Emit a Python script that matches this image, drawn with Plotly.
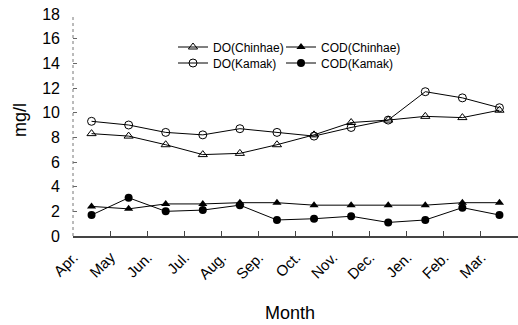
import plotly.graph_objects as go

months = ["Apr.", "May", "Jun.", "Jul.", "Aug.", "Sep.", "Oct.", "Nov.", "Dec.", "Jen.", "Feb.", "Mar."]
do_chinhae = [8.3, 8.1, 7.4, 6.6, 6.7, 7.4, 8.2, 9.2, 9.4, 9.7, 9.6, 10.2]
do_kamak = [9.3, 9.0, 8.4, 8.2, 8.7, 8.4, 8.1, 8.8, 9.4, 11.7, 11.2, 10.4]
cod_chinhae = [2.4, 2.2, 2.6, 2.6, 2.7, 2.7, 2.5, 2.5, 2.5, 2.5, 2.7, 2.7]
cod_kamak = [1.7, 3.1, 2.0, 2.1, 2.5, 1.3, 1.4, 1.6, 1.1, 1.3, 2.3, 1.7]
y_ticks = [0, 2, 4, 6, 8, 10, 12, 14, 16, 18]

FONT = "Liberation Sans, Arial, sans-serif"
line = dict(color="black", width=1)
L, T, PW, PH = 73, 14, 445, 222

def px_x(x):
    return (x - L) / PW

def px_y(y):
    return (T + PH - y) / PH

fig = go.Figure()
fig.add_trace(go.Scatter(x=months, y=do_chinhae, mode="lines+markers", name="DO(Chinhae)",
                         line=line, marker=dict(symbol="triangle-up-open", size=8, color="black",
                                                line=dict(width=1, color="black")), legend="legend"))
fig.add_trace(go.Scatter(x=months, y=do_kamak, mode="lines+markers", name="DO(Kamak)",
                         line=line, marker=dict(symbol="circle-open", size=8, color="black",
                                                line=dict(width=1, color="black")), legend="legend2"))
fig.add_trace(go.Scatter(x=months, y=cod_chinhae, mode="lines+markers", name="COD(Chinhae)",
                         line=line, marker=dict(symbol="triangle-up", size=8, color="black"), legend="legend3"))
fig.add_trace(go.Scatter(x=months, y=cod_kamak, mode="lines+markers", name="COD(Kamak)",
                         line=line, marker=dict(symbol="circle", size=8, color="black"), legend="legend4"))

def leg(xpx, ypx):
    return dict(x=px_x(xpx), y=px_y(ypx), xanchor="left", yanchor="middle",
                bgcolor="rgba(0,0,0,0)", font=dict(size=12, family=FONT), itemwidth=30)

fig.update_layout(
    width=518, height=325,
    margin=dict(l=L, r=518 - L - PW, t=T, b=325 - T - PH),
    plot_bgcolor="white", paper_bgcolor="white",
    font=dict(family=FONT, color="black"),
    showlegend=True,
    legend=leg(173, 47), legend2=leg(173, 63), legend3=leg(281, 47), legend4=leg(281, 63),
    xaxis=dict(type="category", range=[-0.5, 11.5], tickson="boundaries", ticks="inside",
               ticklen=5, tickcolor="#444", showline=True, linecolor="#444", linewidth=1.5,
               showgrid=False, tickangle=-45, tickfont=dict(size=15), automargin=False,
               ticklabelshift=-18, ticklabelstandoff=5),
    yaxis=dict(range=[0, 18], tickvals=y_ticks, ticks="inside", ticklen=4, tickcolor="#666",
               showline=False, showgrid=False, zeroline=False, tickfont=dict(size=16),
               automargin=False, ticklabelstandoff=12),
)
fig.add_shape(type="line", xref="paper", yref="paper", x0=0, x1=0, y0=0, y1=1,
              line=dict(color="#777", width=1, dash="dot"))
fig.add_annotation(text="mg/l", xref="paper", yref="paper", x=px_x(20), y=px_y(120),
                   xanchor="center", yanchor="middle", textangle=-90, showarrow=False,
                   font=dict(size=18, family=FONT))
fig.add_annotation(text="Month", xref="paper", yref="paper", x=px_x(290), y=px_y(313),
                   xanchor="center", yanchor="middle", showarrow=False,
                   font=dict(size=18, family=FONT))
fig.write_html("out.html", config={"displayModeBar": False},
               post_script="document.body.style.margin='0px';")
